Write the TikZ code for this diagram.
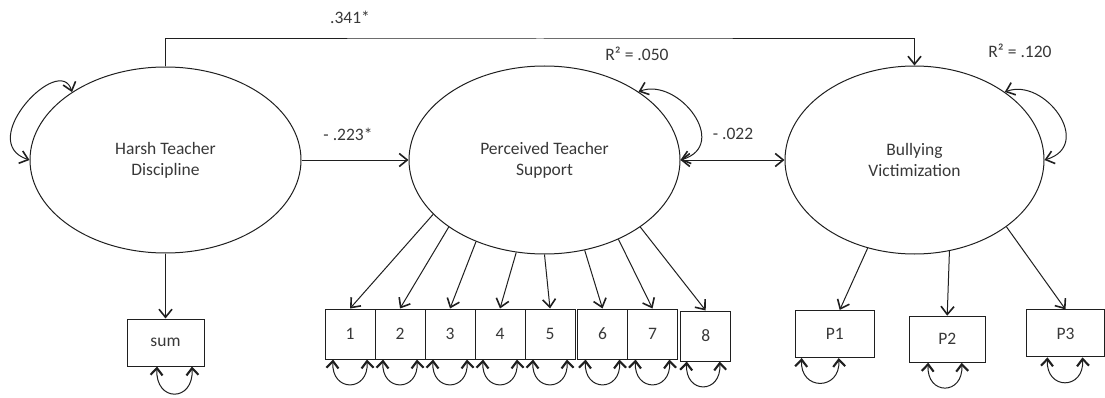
\documentclass[tikz,border=0pt]{standalone}
\usepackage{fontspec}
\setmainfont{Carlito}
\usetikzlibrary{shapes.geometric, arrows.meta}

\tikzset{
  >={Straight Barb[length=8pt, width=13pt, line width=1.6pt]},
  latent/.style={ellipse, draw, inner sep=0pt, align=center, minimum width=271pt, minimum height=188pt},
  indic/.style={rectangle, draw, inner sep=0pt, minimum width=50pt, minimum height=50pt},
  obs/.style={rectangle, draw, inner sep=0pt, minimum width=78pt, minimum height=47pt},
  resid/.style={>={Straight Barb[length=7pt, width=12pt, line width=2.1pt]}, <->}
}

\begin{document}
\begin{tikzpicture}[x=1pt, y=1pt, line width=1pt, color=black!88, text=black!78, font=\fontsize{17.5}{21}\selectfont]
\useasboundingbox (0, 0) rectangle (1105, 397);
% latent variables
\node[latent, minimum height=186pt] (harsh) at(165.5, 237) {Harsh Teacher\\Discipline};
\node[latent] (support) at(544.5, 237) {Perceived Teacher\\Support};
\node[latent, minimum width=259pt] (bully) at(914.5, 237) {Bullying\\Victimization};
% observed variables
\node[obs, minimum width=77pt] (sum) at(165.5, 54.5) {sum};
\node[indic] (i1) at(350, 63) {1};
\node[indic] (i2) at(400, 63) {2};
\node[indic] (i3) at(450, 63) {3};
\node[indic] (i4) at(500, 63) {4};
\node[indic] (i5) at(550, 63) {5};
\node[indic] (i6) at(602.5, 63) {6};
\node[indic] (i7) at(652.5, 63) {7};
\node[indic] (i8) at(705.7, 61) {8};
\node[obs, minimum width=79pt] (p1) at(834.7, 63) {P1};
\node[obs, minimum width=76pt, minimum height=46pt] (p2) at(947.2, 57.8) {P2};
\node[obs] (p3) at(1065.5, 63.6) {P3};
% coefficients
\node (lab341) at(350, 380) {.341*};
\node (lab223) at(348, 263) {- .223*};
\node (lab022) at(733, 263) {- .022};
\node (r2sup) at(637, 343) {R² = .050};
\node (r2bul) at(1020, 346) {R² = .120};
\coordinate (corner) at(540, 358);
% structural paths
\draw[->] (harsh.north) |- (corner) -| (bully.north);
\draw[->] (harsh.east) -- (support.west);
\draw[<->] (support.east) -- (bully.west);
\draw[->] (harsh.south) -- (sum.north);
% loadings
\draw[->] (support.206) -- (i1.north);
\draw[->] (support.215) -- (i2.north);
\draw[->] (support.230) -- (i3.north);
\draw[->] (support.253) -- (i4.north);
\draw[->] (support.270) -- (i5.north);
\draw[->] (support.294) -- (i6.north);
\draw[->] (support.313) -- (i7.north);
\draw[->] (support.325) -- (i8.north);
\draw[->] (bully.242) -- ([xshift=5pt]p1.north);
\draw[->] (bully.291) -- (p2.north);
\draw[->] (bully.324) -- (p3.north);
% disturbances
\draw[<->] (harsh.144) .. controls +(-12, 40) and +(-55, 18) .. (harsh.west);
\draw[<->] (support.36) .. controls +(40, 15) and +(50, 15) .. (support.east);
\draw[<->] (bully.37) .. controls +(40, 15) and +(50, 15) .. (bully.east);
% residuals
\draw[resid] ([xshift=-8.5pt]sum.south) .. controls +(-2, -36) and +(2, -36) .. ([xshift=26.5pt]sum.south);
\draw[resid] ([xshift=-17pt]i1.south) .. controls +(-2, -33) and +(2, -33) .. ([xshift=17pt]i1.south);
\draw[resid] ([xshift=-17pt]i2.south) .. controls +(-2, -33) and +(2, -33) .. ([xshift=17pt]i2.south);
\draw[resid] ([xshift=-17pt]i3.south) .. controls +(-2, -33) and +(2, -33) .. ([xshift=17pt]i3.south);
\draw[resid] ([xshift=-17pt]i4.south) .. controls +(-2, -33) and +(2, -33) .. ([xshift=17pt]i4.south);
\draw[resid] ([xshift=-17pt]i5.south) .. controls +(-2, -33) and +(2, -33) .. ([xshift=17pt]i5.south);
\draw[resid] ([xshift=-17pt]i6.south) .. controls +(-2, -33) and +(2, -33) .. ([xshift=17pt]i6.south);
\draw[resid] ([xshift=-17pt]i7.south) .. controls +(-2, -33) and +(2, -33) .. ([xshift=17pt]i7.south);
\draw[resid] ([xshift=-19pt]i8.south) .. controls +(-2, -33) and +(2, -33) .. ([xshift=14pt]i8.south);
\draw[resid] ([xshift=-33pt]p1.south) .. controls +(-2, -33) and +(2, -33) .. ([xshift=4pt]p1.south);
\draw[resid] ([xshift=-19pt]p2.south) .. controls +(-2, -33) and +(2, -33) .. ([xshift=14.5pt]p2.south);
\draw[resid] ([xshift=-18pt]p3.south) .. controls +(-2, -33) and +(2, -33) .. ([xshift=17pt]p3.south);
\end{tikzpicture}
\end{document}
